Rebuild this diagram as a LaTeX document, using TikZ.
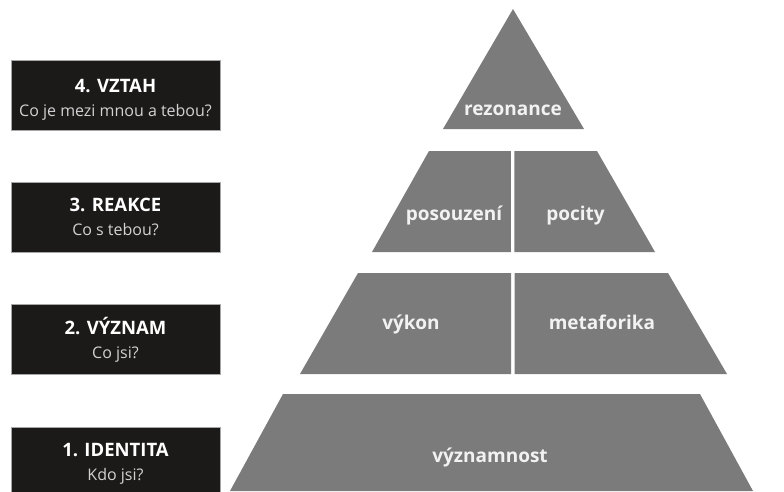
\documentclass[tikz,border=0pt]{standalone}
\usepackage{fontspec}
\setmainfont{Open Sans}
\definecolor{pgray}{HTML}{7B7B7B}
\definecolor{boxblk}{HTML}{1C1919}
\definecolor{subtxt}{HTML}{D2D2D2}
\definecolor{lbltxt}{HTML}{F2F2F2}
\tikzset{
  blk/.style={fill=boxblk, draw=gray!70, line width=0.6pt},
  piece/.style={fill=pgray, draw=none},
  ttl/.style={text=white, font=\fontsize{18.5}{20}\selectfont\bfseries, inner sep=0pt, anchor=base},
  sub/.style={text=subtxt, font=\fontsize{16}{18}\selectfont, inner sep=0pt, anchor=base},
  lbl/.style={text=lbltxt, font=\fontsize{19}{21}\selectfont\bfseries, inner sep=0pt, anchor=base}
}
\begin{document}
\begin{tikzpicture}[x=1pt,y=-1pt]
\useasboundingbox (0,0) rectangle (784,491);
\clip (0,0) rectangle (784,491);
\fill[white] (0,0) rectangle (784,491);
% left boxes
\draw[blk] (11,60) rectangle (220,130);
\node[ttl] (t4) at (115.5,92) {4. VZTAH};
\node[sub] (s4) at (115.5,116) {Co je mezi mnou a tebou?};
\draw[blk] (11,182) rectangle (220,252);
\node[ttl] (t3) at (115.5,211) {3. REAKCE};
\node[sub] (s3) at (115.5,235) {Co s tebou?};
\draw[blk] (11,304) rectangle (220,374);
\node[ttl] (t2) at (115.5,334) {2. VÝZNAM};
\node[sub] (s2) at (115.5,358) {Co jsi?};
\draw[blk] (11,427) rectangle (220,500);
\node[ttl] (t1) at (115.5,456.5) {1. IDENTITA};
\node[sub] (s1) at (115.5,480.5) {Kdo jsi?};
% pyramid
\fill[piece] (513,9) -- (584,129) -- (443,129) -- cycle;
\node[lbl] (rez) at (513,115) {rezonance};
\fill[piece] (429,151) -- (510.8,151) -- (510.8,252) -- (372,252) -- cycle;
\fill[piece] (514.3,151) -- (597,151) -- (655,252) -- (514.3,252) -- cycle;
\node[lbl] (pos) at (454,220) {posouzení};
\node[lbl] (poc) at (575.5,220) {pocity};
\fill[piece] (358,273) -- (511,273) -- (511,374) -- (300,374) -- cycle;
\fill[piece] (514.7,273) -- (668,273) -- (727,374) -- (514.7,374) -- cycle;
\node[lbl] (vyk) at (411,329.5) {výkon};
\node[lbl] (met) at (602,329.5) {metaforika};
\fill[piece] (283,394) -- (700,394) -- (753,491) -- (230,491) -- cycle;
\node[lbl] (vyz) at (490,462) {významnost};
\end{tikzpicture}
\end{document}
